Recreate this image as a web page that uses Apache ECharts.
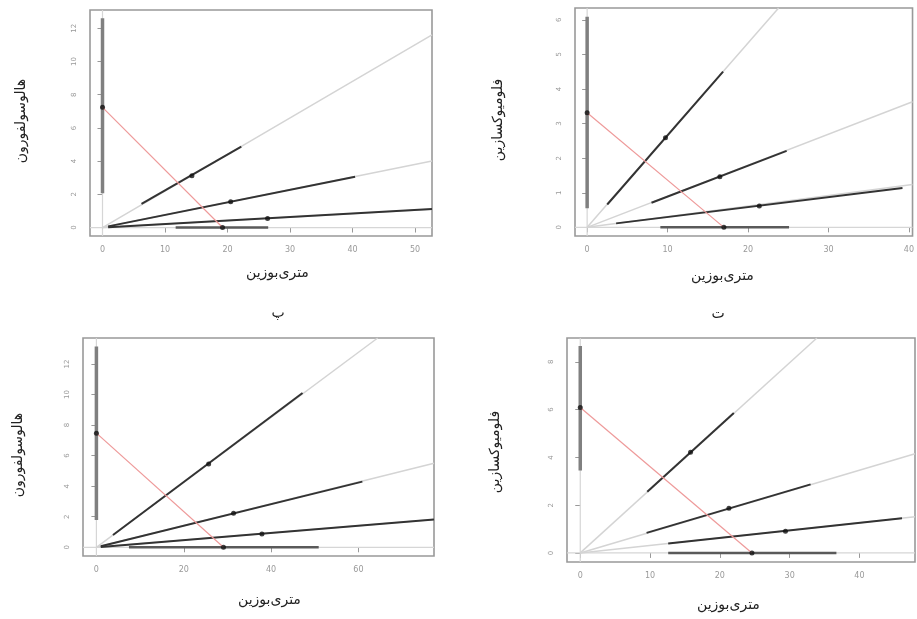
<!DOCTYPE html>
<html>
<head>
<meta charset="utf-8">
<script src="https://cdn.jsdelivr.net/npm/echarts@6/dist/echarts.min.js"></script>
<style>
html,body{margin:0;padding:0;background:#fff;}
#c{width:917px;height:619px;}
</style>
</head>
<body>
<div id="c"></div>
<script>
// ---------------- DATA ----------------
const xTitle = 'متری‌بوزین';
const yTitles = ['هالوسولفورون', 'فلومیوکسازین', 'هالوسولفورون', 'فلومیوکسازین'];
const panelLetters = ['پ', 'ت'];

// tick values per panel
const tlXTicks = [0, 10, 20, 30, 40, 50];
const tlYTicks = [0, 2, 4, 6, 8, 10, 12];
const trXTicks = [0, 10, 20, 30, 40];
const trYTicks = [0, 1, 2, 3, 4, 5, 6];
const blXTicks = [0, 20, 40, 60];
const blYTicks = [0, 2, 4, 6, 8, 10, 12];
const brXTicks = [0, 10, 20, 30, 40];
const brYTicks = [0, 2, 4, 6, 8];

// top-left panel
const tlVBar = [2.06, 12.6];
const tlHBar = [11.7, 26.5];
const tlRed = [[0, 7.24], [19.2, 0]];
const tlLightEnds = [[52.7, 11.6], [52.7, 4.0], [52.7, 1.1]];
const tlSegments = [[[6.24, 1.42], [22.2, 4.87]], [[0.9, 0.07], [40.4, 3.06]], [[0.9, 0.02], [52.7, 1.11]]];
const tlDots = [[14.3, 3.12], [20.5, 1.55], [26.4, 0.55]];

// top-right panel
const trVBar = [0.55, 6.09];
const trHBar = [9.1, 25.1];
const trRed = [[0, 3.31], [17.0, 0]];
const trLightEnds = [[23.8, 6.34], [40.45, 3.63], [40.45, 1.24]];
const trSegments = [[[2.5, 0.66], [16.9, 4.5]], [[8.0, 0.71], [24.8, 2.21]], [[3.6, 0.115], [39.2, 1.14]]];
const trDots = [[9.74, 2.59], [16.5, 1.46], [21.4, 0.62]];

// bottom-left panel
const blVBar = [1.79, 13.15];
const blHBar = [7.45, 50.9];
const blRed = [[0, 7.47], [29.1, 0]];
const blLightEnds = [[64.4, 13.7], [77.3, 5.5], [77.3, 1.82]];
const blSegments = [[[3.8, 0.8], [47.2, 10.1]], [[1.0, 0.07], [60.9, 4.3]], [[1.0, 0.02], [77.3, 1.82]]];
const blDots = [[25.7, 5.46], [31.4, 2.23], [37.9, 0.87]];

// bottom-right panel
const brVBar = [3.45, 8.66];
const brHBar = [12.6, 36.7];
const brRed = [[0, 6.09], [24.6, 0]];
const brLightEnds = [[33.9, 9.0], [47.96, 4.15], [47.96, 1.51]];
const brSegments = [[[9.6, 2.56], [22.0, 5.86]], [[9.5, 0.84], [33.0, 2.87]], [[12.6, 0.39], [46.1, 1.45]]];
const brDots = [[15.8, 4.22], [21.3, 1.87], [29.4, 0.91]];

// ---------------- LAYOUT ----------------
const panels = [
  {grid: {left: 90, top: 10, width: 342, height: 226}, x: [-2.0, 52.7], y: [-0.51, 13.1], xt: tlXTicks, yt: tlYTicks,
   v: tlVBar, h: tlHBar, red: tlRed, ends: tlLightEnds, seg: tlSegments, dots: tlDots,
   xTitlePos: [291, 275], yTitlePos: [21, 121]},
  {grid: {left: 575, top: 8, width: 342, height: 228}, x: [-1.51, 40.45], y: [-0.25, 6.34], xt: trXTicks, yt: trYTicks,
   v: trVBar, h: trHBar, red: trRed, ends: trLightEnds, seg: trSegments, dots: trDots,
   xTitlePos: [736, 278], yTitlePos: [498, 120]},
  {grid: {left: 83, top: 338, width: 351, height: 218}, x: [-3.07, 77.3], y: [-0.57, 13.7], xt: blXTicks, yt: blYTicks,
   v: blVBar, h: blHBar, red: blRed, ends: blLightEnds, seg: blSegments, dots: blDots,
   xTitlePos: [283, 602], yTitlePos: [18, 455]},
  {grid: {left: 567, top: 338, width: 348, height: 224}, x: [-1.9, 47.96], y: [-0.38, 9.0], xt: brXTicks, yt: brYTicks,
   v: brVBar, h: brHBar, red: brRed, ends: brLightEnds, seg: brSegments, dots: brDots,
   xTitlePos: [742, 607], yTitlePos: [495, 452]}
];

const grids = [], xAxes = [], yAxes = [], series = [], graphics = [];
const FONT = 'DejaVu Sans';

panels.forEach((p, i) => {
  grids.push(Object.assign({show: true, borderColor: '#999', borderWidth: 1.6, backgroundColor: '#fff'}, p.grid));
  xAxes.push({
    type: 'value', gridIndex: i, min: p.x[0], max: p.x[1],
    axisLine: {show: false}, splitLine: {show: false},
    axisTick: {show: true, length: 5, lineStyle: {color: '#999'}, customValues: p.xt},
    axisLabel: {customValues: p.xt, fontSize: 8, color: '#999', margin: 10, fontFamily: FONT}
  });
  yAxes.push({
    type: 'value', gridIndex: i, min: p.y[0], max: p.y[1],
    axisLine: {show: false}, splitLine: {show: false},
    axisTick: {show: true, length: 5, lineStyle: {color: '#999'}, customValues: p.yt},
    axisLabel: {customValues: p.yt, fontSize: 7, color: '#999', margin: 12, rotate: 90, fontFamily: FONT}
  });
  const base = {xAxisIndex: i, yAxisIndex: i, silent: true, animation: false, clip: true};
  const line = (data, color, width, z) => Object.assign({type: 'line', data: data, symbol: 'none',
    lineStyle: {color: color, width: width, cap: 'butt'}, z: z}, base);
  // reference lines x=0, y=0 across the whole panel
  series.push(line([[0, p.y[0]], [0, p.y[1]]], '#d6d6d6', 1.2, 1));
  series.push(line([[p.x[0], 0], [p.x[1], 0]], '#d6d6d6', 1.2, 1));
  // light full lines through origin
  p.ends.forEach(e => series.push(line([[0, 0], e], '#d4d4d4', 1.5, 2)));
  // bars on axes
  series.push(line([[0, p.v[0]], [0, p.v[1]]], '#808080', 3.5, 3));
  series.push(line([[p.h[0], 0], [p.h[1], 0]], '#5a5a5a', 2.5, 3));
  // dark segments
  p.seg.forEach(s => series.push(line(s, '#333', 2, 4)));
  // red line
  series.push(line(p.red, '#ee9a9a', 1.2, 5));
  // dots
  series.push(Object.assign({type: 'scatter', data: p.dots.concat(p.red), symbol: 'circle', symbolSize: 5,
    itemStyle: {color: '#111'}, z: 6}, base));
  graphics.push({type: 'text', left: p.xTitlePos[0] - 45, top: p.xTitlePos[1] - 9,
    style: {text: xTitle, font: '14px "DejaVu Sans"', fill: '#222', width: 90, align: 'center'}});
  graphics.push({type: 'text', x: p.yTitlePos[0], y: p.yTitlePos[1], rotation: Math.PI / 2,
    style: {text: yTitles[i], font: '14px "DejaVu Sans"', fill: '#222', align: 'center', verticalAlign: 'middle'}});
});

graphics.push({type: 'text', x: 278, y: 313, style: {text: panelLetters[0], font: '14px "DejaVu Sans"', fill: '#222', align: 'center', verticalAlign: 'middle'}});
graphics.push({type: 'text', x: 718, y: 314, style: {text: panelLetters[1], font: '14px "DejaVu Sans"', fill: '#222', align: 'center', verticalAlign: 'middle'}});

const chart = echarts.init(document.getElementById('c'), null, {renderer: 'canvas'});
chart.setOption({
  animation: false,
  backgroundColor: '#fff',
  grid: grids, xAxis: xAxes, yAxis: yAxes, series: series, graphic: graphics
});
</script>
</body>
</html>
